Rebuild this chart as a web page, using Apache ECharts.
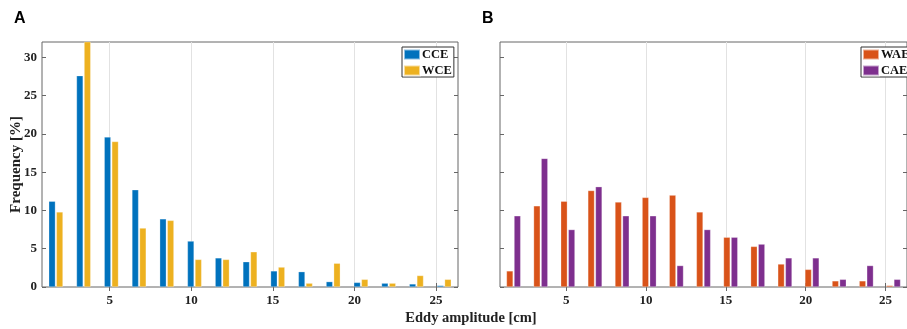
<!DOCTYPE html>
<html>
<head>
<meta charset="utf-8">
<script src="https://cdn.jsdelivr.net/npm/echarts@6/dist/echarts.min.js"></script>
<style>
  html, body { margin: 0; padding: 0; background: #fff; }
  #chart { width: 907px; height: 329px; }
</style>
</head>
<body>
<div id="chart"></div>
<script>
// bin centres of eddy amplitude [cm]
const binCenters = [1.7, 3.4, 5.1, 6.8, 8.5, 10.2, 11.9, 13.6, 15.3, 17.0, 18.7, 20.4, 22.1, 23.8, 25.5];

// frequency [%] per bin
const cce = [11.2, 27.6, 19.6, 12.7, 8.9, 6.0, 3.8, 3.3, 2.1, 2.0, 0.7, 0.6, 0.5, 0.4, 0.2];
const wce = [9.8, 33.5, 19.0, 7.7, 8.7, 3.6, 3.6, 4.6, 2.6, 0.5, 3.1, 1.0, 0.5, 1.5, 1.0];
const wae = [2.1, 10.6, 11.2, 12.6, 11.1, 11.7, 12.0, 9.8, 6.5, 5.3, 3.0, 2.3, 0.8, 0.8, 0.2];
const cae = [9.3, 16.8, 7.5, 13.1, 9.3, 9.3, 2.8, 7.5, 6.5, 5.6, 3.8, 3.8, 1.0, 2.8, 1.0];

const xTicks = [5, 10, 15, 20, 25];
const yTicks = [0, 5, 10, 15, 20, 25, 30];

const FONT = "'Liberation Serif', 'Times New Roman', serif";
const FRAME = "#666";

const chart = echarts.init(document.getElementById("chart"));

const pairs = (vals) => vals.map((v, i) => [binCenters[i], v]);

// bottom (labelled) and top (mirror) x axes for one grid
const xAxesFor = (gridIndex) => [
  {
    type: "value", gridIndex, position: "bottom",
    min: 0.85, max: 26.35,
    axisLine: { show: false },
    axisTick: { show: true, inside: true, length: 4, customValues: xTicks, lineStyle: { color: FRAME } },
    axisLabel: { customValues: xTicks, color: "#222", fontFamily: FONT, fontWeight: "bold", fontSize: 13, margin: 7 },
    splitLine: { show: true, lineStyle: { color: "#e2e2e2", width: 1 } },
  },
  {
    type: "value", gridIndex, position: "top",
    min: 0.85, max: 26.35,
    axisLine: { show: false },
    axisTick: { show: true, inside: true, length: 4, customValues: xTicks, lineStyle: { color: FRAME } },
    axisLabel: { show: false },
    splitLine: { show: false },
  },
];

const yAxesFor = (gridIndex, labelled) => [
  {
    type: "value", gridIndex, position: "left",
    min: 0, max: 32,
    name: labelled ? "Frequency [%]" : "",
    nameLocation: "middle", nameGap: 18, nameMoveOverlap: false,
    nameTextStyle: { color: "#222", fontFamily: FONT, fontWeight: "bold", fontSize: 15 },
    axisLine: { show: false },
    axisTick: { show: true, inside: true, length: 4, customValues: yTicks, lineStyle: { color: FRAME } },
    axisLabel: { show: labelled, customValues: yTicks, color: "#222", fontFamily: FONT, fontWeight: "bold", fontSize: 13, margin: 5 },
    splitLine: { show: false },
  },
  {
    type: "value", gridIndex, position: "right",
    min: 0, max: 32,
    axisLine: { show: false },
    axisTick: { show: true, inside: true, length: 4, customValues: yTicks, lineStyle: { color: FRAME } },
    axisLabel: { show: false },
    splitLine: { show: false },
  },
];

const barSeries = (name, vals, color, axisIndex) => ({
  name,
  type: "bar",
  xAxisIndex: axisIndex,
  yAxisIndex: axisIndex,
  data: pairs(vals),
  barWidth: 6.6,
  barGap: "15%",
  clip: true,
  itemStyle: { color, borderColor: "rgba(255,255,255,0.55)", borderWidth: 0.5 },
  emphasis: { disabled: true },
});

const legendFor = (left, names) => ({
  left, top: 47,
  orient: "vertical",
  data: names,
  icon: "rect",
  itemWidth: 16, itemHeight: 10, itemGap: 3,
  padding: [1, 2, 0, 1],
  borderColor: "#333", borderWidth: 1,
  backgroundColor: "#fff",
  selectedMode: false,
  textStyle: { color: "#111", fontFamily: FONT, fontWeight: "bold", fontSize: 12.5, lineHeight: 12, padding: [0, 0, 0, -3] },
});

const option = {
  animation: false,
  backgroundColor: "#fff",
  grid: [
    { left: 42, top: 42, width: 416, height: 245, show: true, borderColor: FRAME, borderWidth: 1 },
    { left: 500, top: 42, width: 417, height: 245, show: true, borderColor: FRAME, borderWidth: 1 },
  ],
  xAxis: [...xAxesFor(0), ...xAxesFor(1)],
  yAxis: [...yAxesFor(0, true), ...yAxesFor(1, false)],
  legend: [legendFor(402, ["CCE", "WCE"]), legendFor(861, ["WAE", "CAE"])],
  series: [
    barSeries("CCE", cce, "#0072BD", 0),
    barSeries("WCE", wce, "#EDB120", 0),
    barSeries("WAE", wae, "#D95319", 2),
    barSeries("CAE", cae, "#7E2F8E", 2),
  ],
  graphic: [
    { type: "text", left: 14, top: 11, style: { text: "A", font: "bold 16px 'Liberation Sans', Arial, sans-serif", fill: "#000" } },
    { type: "text", left: 482, top: 11, style: { text: "B", font: "bold 16px 'Liberation Sans', Arial, sans-serif", fill: "#000" } },
    { type: "text", x: 471, y: 318, style: { text: "Eddy amplitude [cm]", font: "bold 14.5px " + FONT, fill: "#222", align: "center", verticalAlign: "middle" } },
  ],
};

chart.setOption(option);
window.addEventListener("resize", () => chart.resize());
</script>
</body>
</html>
